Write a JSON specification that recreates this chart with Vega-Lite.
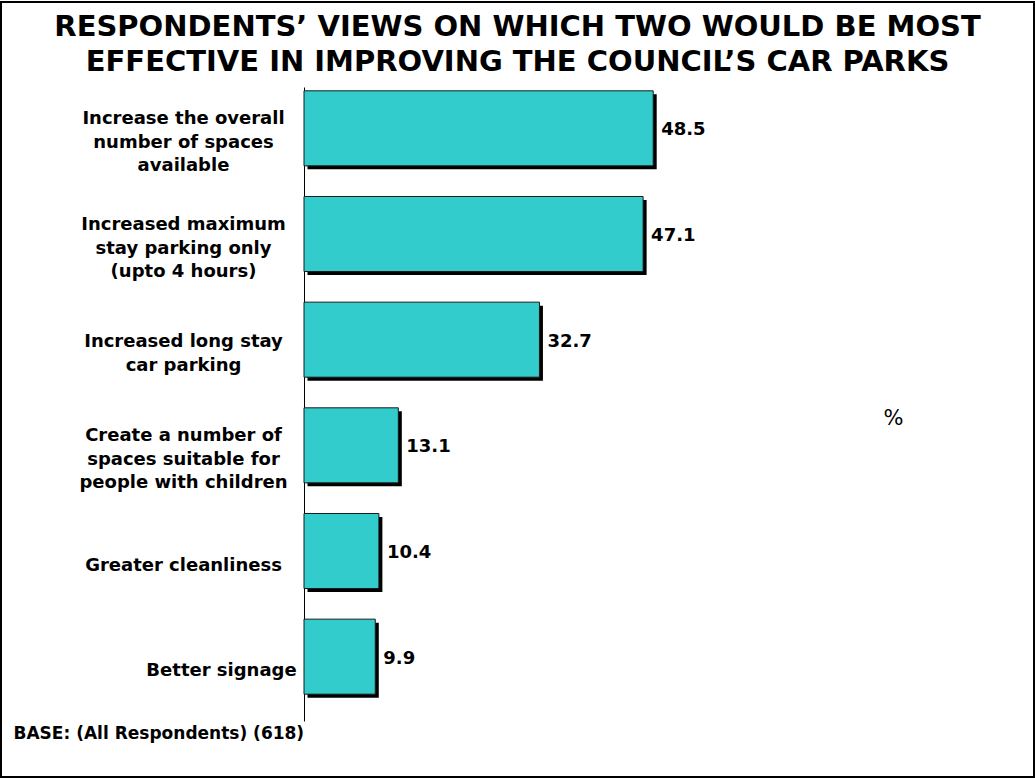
{
  "$schema": "https://vega.github.io/schema/vega-lite/v6.json",
  "width": 1033,
  "height": 775,
  "autosize": {"type": "none"},
  "padding": {"left": 1, "top": 2, "right": 1, "bottom": 1},
  "background": "white",
  "config": {"view": {"stroke": "black", "strokeWidth": 2}, "font": "DejaVu Sans"},
  "title": {
    "text": ["RESPONDENTS’ VIEWS ON WHICH TWO WOULD BE MOST", "EFFECTIVE IN IMPROVING THE COUNCIL’S CAR PARKS"],
    "font": "DejaVu Sans",
    "fontSize": 29,
    "fontWeight": "bold",
    "color": "black",
    "anchor": "middle",
    "frame": "group",
    "orient": "top",
    "baseline": "top",
    "offset": -75,
    "lineHeight": 35
  },
  "data": {
    "values": [
      {"label": "Increase the overall|number of spaces|available", "value": 48.5},
      {"label": "Increased maximum|stay parking only|(upto 4 hours)", "value": 47.1},
      {"label": "Increased long stay|car parking", "value": 32.7},
      {"label": "Create a number of|spaces suitable for|people with children", "value": 13.1},
      {"label": "Greater cleanliness", "value": 10.4},
      {"label": "Better signage", "value": 9.9}
    ]
  },
  "encoding": {
    "y": {
      "field": "label",
      "type": "nominal",
      "sort": null,
      "scale": {"range": [85, 719], "paddingInner": 0.29, "paddingOuter": 0.145},
      "axis": {
        "orient": "left",
        "offset": -303,
        "title": "BASE: (All Respondents) (618)",
        "titleAngle": 0,
        "titleX": -291,
        "titleY": 736,
        "titleAlign": "left",
        "titleBaseline": "alphabetic",
        "titleFont": "DejaVu Sans",
        "titleFontSize": 17,
        "titleFontWeight": "bold",
        "titleColor": "black",
        "labelExpr": "split(datum.value, '|')",
        "labelAlign": "center",
        "labelBaseline": "middle",
        "labelFont": "DejaVu Sans",
        "labelFontSize": 18,
        "labelFontWeight": "bold",
        "labelColor": "black",
        "labelLineHeight": 23.5,
        "labelLimit": 400,
        "labelPadding": {"condition": {"test": "datum.value === 'Better signage'", "value": 83}, "value": 121},
        "labelOffset": {"condition": [
          {"test": "length(split(datum.value, '|')) == 3", "value": -20.5},
          {"test": "length(split(datum.value, '|')) == 2", "value": -8.75}
        ], "value": 3},
        "ticks": false,
        "tickSize": 0,
        "domainColor": "black",
        "domainWidth": 1,
        "grid": false
      }
    },
    "x": {
      "field": "value",
      "type": "quantitative",
      "scale": {"domain": [0, 100], "range": [303, 1023], "nice": false, "zero": true},
      "axis": {
        "orient": "bottom",
        "labels": false,
        "ticks": false,
        "domain": false,
        "grid": false,
        "title": "%",
        "titleX": 892,
        "titleY": -359,
        "titleAlign": "center",
        "titleBaseline": "middle",
        "titleFont": "DejaVu Sans",
        "titleFontSize": 21,
        "titleFontWeight": "normal",
        "titleColor": "black"
      }
    }
  },
  "layer": [
    {"mark": {"type": "bar", "color": "black", "xOffset": 3.5, "yOffset": -8}},
    {"mark": {"type": "bar", "color": "#33CCCC", "stroke": "#1a1a1a", "strokeWidth": 1, "yOffset": -11.5}},
    {
      "mark": {"type": "text", "align": "left", "baseline": "middle", "dx": 8, "yOffset": -9.5, "font": "DejaVu Sans", "fontSize": 18, "fontWeight": "bold", "color": "black"},
      "encoding": {"text": {"field": "value", "type": "quantitative", "format": ".1f"}}
    }
  ]
}
